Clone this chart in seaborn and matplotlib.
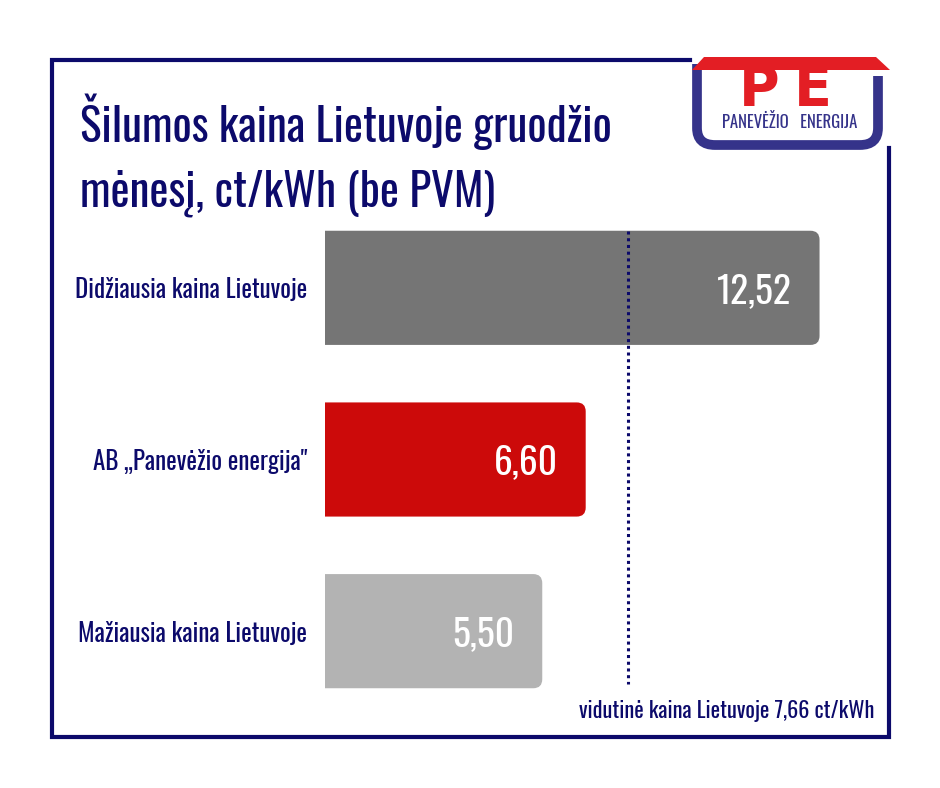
import matplotlib
matplotlib.use("Agg")
import matplotlib.pyplot as plt
import seaborn as sns
import pandas as pd
from matplotlib import font_manager
from matplotlib.patches import Polygon, PathPatch
from matplotlib.path import Path

# duomenys
categories = ["Didžiausia kaina Lietuvoje", "AB „Panevėžio energija\"", "Mažiausia kaina Lietuvoje"]
values = [12.52, 6.60, 5.50]
bar_colors = ["#757575", "#cc0a0a", "#b3b3b3"]
average = 7.66
title_lines = ["Šilumos kaina Lietuvoje gruodžio", "mėnesį, ct/kWh (be PVM)"]
avg_label = "vidutinė kaina Lietuvoje 7,66 ct/kWh"

NAVY = "#0c0a6b"
LOGO_NAVY = "#35338a"
LOGO_RED = "#e31e24"

sns.set_theme(style="white")
installed = {f.name for f in font_manager.fontManager.ttflist}
narrow = next((n for n in ["Oswald", "Barlow Condensed", "Archivo Narrow", "Asap Condensed"]
               if n in installed), "DejaVu Sans")
plt.rcParams["font.family"] = [narrow, "DejaVu Sans"]

df = pd.DataFrame({"kategorija": categories, "kaina": values})

fig = plt.figure(figsize=(9.4, 7.88), dpi=100)
fig.patch.set_facecolor("white")

# fonas: rėmelis, antraštė, logotipas (pikselių koordinatės)
bg = fig.add_axes([0, 0, 1, 1], zorder=0)
bg.set_xlim(0, 940)
bg.set_ylim(788, 0)
bg.axis("off")

bg.plot([690, 52, 52, 889, 889], [60, 60, 737, 737, 148], color=NAVY, lw=3,
        solid_joinstyle="miter", solid_capstyle="projecting")

for line, base in zip(title_lines, [142, 207]):
    bg.text(80, base, line, color=NAVY, fontsize=32.5, fontweight="bold",
            va="baseline", ha="left")

bg.text(874, 718, avg_label, color=NAVY, fontsize=16, fontweight=600,
        ha="right", va="baseline")

# logotipas
u_path = Path([(697, 64), (697, 128), (697, 145), (715, 145), (860, 145),
               (878, 145), (878, 128), (878, 76)],
              [Path.MOVETO, Path.LINETO, Path.CURVE3, Path.CURVE3, Path.LINETO,
               Path.CURVE3, Path.CURVE3, Path.LINETO])
bg.add_patch(PathPatch(u_path, fill=False, edgecolor=LOGO_NAVY, lw=7, capstyle="butt"))
bg.add_patch(Polygon([(704, 57), (876, 57), (890, 70), (692, 70)], closed=True,
                     color=LOGO_RED, lw=0))
bg.text(759, 105, "P", color=LOGO_RED, fontsize=40, fontweight="bold",
        ha="center", va="baseline", family="DejaVu Sans")
bg.text(813, 105, "E", color=LOGO_RED, fontsize=40, fontweight="bold",
        ha="center", va="baseline", family="DejaVu Sans")
bg.text(790, 128, "PANEVĖŽIO   ENERGIJA", color=LOGO_NAVY, fontsize=12,
        fontweight="bold", ha="center", va="baseline")

# stulpelių diagrama
left_px, right_px = 325, 890
top_px, bottom_px = 202, 717
ax = fig.add_axes([left_px / 940, 1 - bottom_px / 788,
                   (right_px - left_px) / 940, (bottom_px - top_px) / 788], zorder=1)
ax.patch.set_alpha(0)

sns.barplot(data=df, x="kaina", y="kategorija", hue="kategorija", palette=bar_colors,
            legend=False, width=0.665, ax=ax, saturation=1)

xmax = (right_px - left_px) / 39.5
ax.set_xlim(0, xmax)
ax.set_ylim(2.5, -0.5)

rx = 9 * xmax / (right_px - left_px)
ry = 9 * 3.0 / (bottom_px - top_px)

# stulpeliai su suapvalintais dešiniaisiais kampais
for patch in list(ax.patches):
    x, y = patch.get_x(), patch.get_y()
    w, h = patch.get_width(), patch.get_height()
    color = patch.get_facecolor()
    patch.set_visible(False)
    verts = [(x, y), (x + w - rx, y), (x + w, y), (x + w, y + ry),
             (x + w, y + h - ry), (x + w, y + h), (x + w - rx, y + h),
             (x, y + h), (x, y)]
    codes = [Path.MOVETO, Path.LINETO, Path.CURVE3, Path.CURVE3,
             Path.LINETO, Path.CURVE3, Path.CURVE3, Path.LINETO, Path.CLOSEPOLY]
    ax.add_patch(PathPatch(Path(verts, codes), facecolor=color, edgecolor="none", zorder=2))

for i, v in enumerate(values):
    ax.annotate(f"{v:.2f}".replace(".", ","), xy=(v, i), xytext=(-20, 0),
                textcoords="offset points", ha="right", va="center_baseline",
                color="white", fontsize=27, fontweight="bold", zorder=4)

ax.vlines(average, -0.3325, 2.305, colors=NAVY, linestyles=(0, (1, 1.2)), lw=2.2, zorder=3)

ax.set_xlabel("")
ax.set_ylabel("")
ax.set_xticks([])
ax.tick_params(axis="y", length=0, pad=13, labelsize=18, labelcolor=NAVY)
sns.despine(ax=ax, left=True, bottom=True)

fig.savefig("out.png", dpi=100, facecolor="white")
